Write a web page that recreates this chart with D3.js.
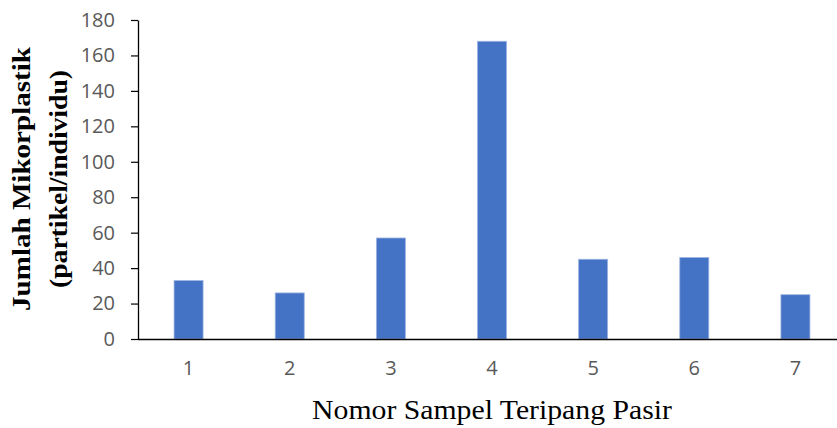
<!DOCTYPE html>
<html>
<head>
<meta charset="utf-8">
<script src="https://cdn.jsdelivr.net/npm/d3@7"></script>
<style>
  html, body { margin: 0; padding: 0; background: #fff; }
  svg { display: block; }
</style>
</head>
<body>
<svg id="chart" width="837" height="428"></svg>
<script>
const categories = ["1", "2", "3", "4", "5", "6", "7"];
const values = [33, 26, 57, 168, 45, 46, 25];
const yTicks = [0, 20, 40, 60, 80, 100, 120, 140, 160, 180];
const xTitle = "Nomor Sampel Teripang Pasir";
const yTitleLines = ["Jumlah Mikorplastik", "(partikel/individu)"];

const svg = d3.select("#chart");
const mLeft = 138, mRight = 846, mTop = 20, mBottom = 339;

const x = d3.scaleBand().domain(categories).range([mLeft, mRight])
  .paddingInner(0.713).paddingOuter(0.3565);
const y = d3.scaleLinear().domain([0, 180]).range([mBottom, mTop]);

// bars
svg.append("g").selectAll("rect").data(values).join("rect")
  .attr("x", (d, i) => x(categories[i]))
  .attr("y", d => y(d))
  .attr("width", x.bandwidth())
  .attr("height", d => y(0) - y(d))
  .attr("fill", "#4472C4")
  .attr("stroke", "#9fb6e3")
  .attr("stroke-width", 0.8);

// y axis
const yAxis = svg.append("g").attr("transform", `translate(${mLeft},0)`)
  .call(d3.axisLeft(y).tickValues(yTicks).tickSize(7).tickPadding(16).tickSizeOuter(0));
yAxis.select(".domain").attr("stroke", "#000").attr("stroke-width", 1.3);
yAxis.selectAll(".tick line").attr("stroke", "#000").attr("stroke-width", 1.2);
yAxis.selectAll(".tick text")
  .attr("fill", "#595959")
  .style("font-family", "'Open Sans', sans-serif")
  .style("font-size", "20px");

// x axis
const xAxis = svg.append("g").attr("transform", `translate(0,${mBottom})`)
  .call(d3.axisBottom(x).tickSize(0).tickPadding(22));
xAxis.select(".domain").attr("d", `M${mLeft},0.5H837`).attr("stroke", "#000").attr("stroke-width", 1.6);
xAxis.selectAll(".tick text")
  .attr("fill", "#595959")
  .style("font-family", "'Open Sans', sans-serif")
  .style("font-size", "20px");

function fitText(sel, target) {
  const len = sel.node().getComputedTextLength();
  sel.attr("transform", `scale(${target / len},1)`);
}

// x title
const xg = svg.append("g").attr("transform", "translate(492,419)");
const xt = xg.append("text")
  .attr("text-anchor", "middle")
  .style("font-family", "'Liberation Serif', 'Times New Roman', serif")
  .style("font-size", "27px")
  .attr("fill", "#000")
  .text(xTitle);
fitText(xt, 360);

// y title
const yLens = [264, 218];
const yg = svg.append("g").attr("transform", "translate(30,179) rotate(-90)");
yTitleLines.forEach((line, i) => {
  const lg = yg.append("g").attr("transform", `translate(0,${i * 37})`);
  const t = lg.append("text")
    .attr("text-anchor", "middle")
    .style("font-family", "'Liberation Serif', 'Times New Roman', serif")
    .style("font-size", "26px")
    .style("font-weight", "bold")
    .attr("fill", "#000")
    .text(line);
  fitText(t, yLens[i]);
});
</script>
</body>
</html>
